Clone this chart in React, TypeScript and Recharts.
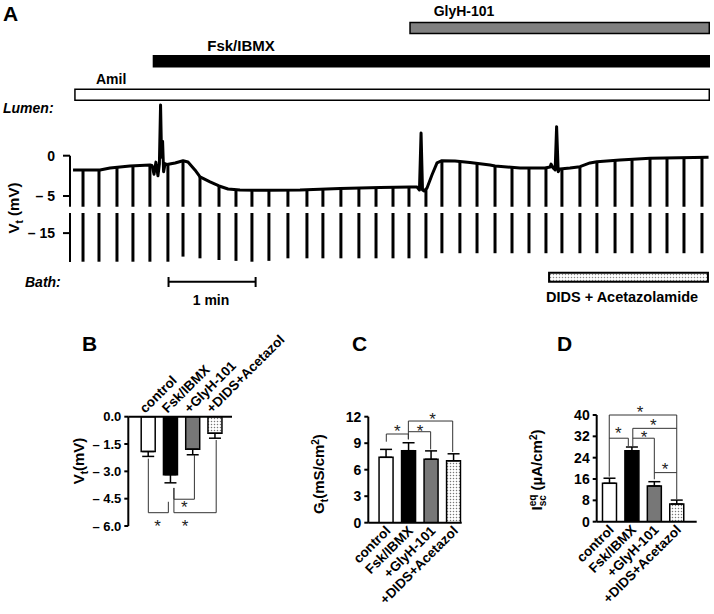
import React from 'react'
import {
  BarChart,
  Bar,
  ComposedChart,
  LineChart,
  Line,
  XAxis,
  YAxis,
  Cell,
  ErrorBar,
  ReferenceLine,
  ReferenceArea,
  ReferenceDot,
} from 'recharts'

const FONT = '"Liberation Sans", Arial, Helvetica, sans-serif'

// panel A: transepithelial voltage trace (time in s, Vt in mV)
const traceTime = [
  2.1, 20.7, 27.6, 41.3, 55.1, 56.5, 57.9, 59.2, 60.6, 61.6, 62.4, 63.1, 63.8, 64.5, 65.5, 66.8,
  72.4, 77.9, 81.3, 86.1, 89.6, 96.5, 102.7, 108.9, 117.1, 137.1, 158.5, 186.1, 213.6, 234.3,
  239.1, 240.8, 241.9, 242.9, 244.0, 246.0, 249.4, 252.9, 256.3, 265.3, 275.6, 289.4, 292.9,
  310.1, 327.3, 330.8, 331.5, 332.9, 334.3, 335.3, 336.4, 337.6, 344.5, 351.4, 358.3, 363.1,
  379.0, 399.7, 440.0,
]
const traceMv = [
  -1.77, -1.77, -1.53, -1.28, -1.15, -1.2, -2.3, -0.8, -2.5, -1.0, 6.3, -0.2, 1.8, -2.0, -1.0, -1.1,
  -0.9, -0.62, -0.78, -1.77, -2.64, -3.26, -3.76, -4.13, -4.26, -4.29, -4.26, -4.07, -3.95, -3.88,
  -3.88, -4.26, 2.8, -4.26, -4.38, -4.0, -2.4, -0.9, -0.62, -0.66, -0.84, -1.15, -1.28,
  -1.53, -1.53, -1.4, -1.04, -1.53, -1.77, 3.6, -2.0, -1.65, -1.53, -1.36, -0.9, -0.74,
  -0.53, -0.32, -0.2,
]

// current pulses: time, voltage at pulse start, voltage deflection reached
const pulseTime = [
  9.0, 20.0, 32.4, 43.4, 55.1, 67.5, 77.9, 89.6, 102.7, 114.4, 125.4, 137.1, 150.2, 163.3, 174.3,
  186.7, 199.1, 210.9, 222.6, 233.6, 245.3, 256.3, 268.7, 280.5, 292.9, 304.6, 316.3, 328.0, 339.0,
  351.4, 363.1, 375.6, 387.3, 399.7, 411.4, 423.1, 435.5,
]
const pulseTop = [
  -1.77, -1.77, -1.45, -1.26, -1.15, -1.05, -0.62, -2.64, -3.76, -4.24, -4.28, -4.29, -4.27, -4.24,
  -4.15, -4.07, -4.0, -3.96, -3.92, -3.88, -4.1, -0.62, -0.72, -0.9, -1.28, -1.46, -1.53, -1.52,
  -1.6, -1.36, -0.74, -0.56, -0.45, -0.32, -0.29, -0.25, -0.21,
]
const pulseBottom = [
  -25.1, -25.1, -25.1, -25.1, -25.1, -25.1, -23.3, -23.9, -24.5, -24.8, -25.1, -24.8, -23.9, -23.9,
  -23.9, -23.9, -23.9, -23.9, -23.9, -23.9, -23.9, -22.1, -22.1, -22.1, -22.1, -22.1, -22.1, -22.1,
  -22.1, -22.1, -22.1, -22.1, -22.1, -22.1, -22.1, -22.1, -22.1,
]

// drug additions (s)
const lumenDrugs = ['GlyH-101', 'Fsk/IBMX', 'Amil']
const lumenStart = [234.3, 57.5, 3.4]
const lumenEnd = [440.5, 440.5, 440.5]
const bathStart = 330.1
const bathEnd = 439.6
const scaleBarStart = 67.9
const scaleBarLen = 60

// panels B-D
const groups = ['control', 'Fsk/IBMX', '+GlyH-101', '+DIDS+Acetazol']
const vtMean = [-1.91, -3.18, -1.78, -0.91]
const vtSem = [0.27, 0.45, 0.31, 0.27]
const gtMean = [7.4, 8.15, 7.18, 7.0]
const gtSem = [0.9, 0.9, 0.95, 0.8]
const iscMean = [14.4, 26.6, 13.4, 6.6]
const iscSem = [1.9, 1.4, 1.6, 1.5]

type Bracket = { x1: number; x2: number; y: number; y1: number; y2: number; sx: number; sy: number }

const vtBrackets: Bracket[] = [
  { x1: 1, x2: 1.9, y: -5.27, y1: -2.3, y2: -4.67, sx: 1.42, sy: -5.8 },
  { x1: 2.15, x2: 3.07, y: -4.53, y1: -3.91, y2: -2.1, sx: 2.62, sy: -4.75 },
  { x1: 2.15, x2: 4.05, y: -5.27, y1: -3.91, y2: -1.28, sx: 2.65, sy: -5.8 },
]
const gtBrackets: Bracket[] = [
  { x1: 1, x2: 1.98, y: 10.04, y1: 9.17, y2: 9.44, sx: 1.49, sy: 10.8 },
  { x1: 1.98, x2: 2.97, y: 10.3, y1: 10.3, y2: 8.3, sx: 2.5, sy: 10.8 },
  { x1: 1.98, x2: 3.95, y: 11.51, y1: 9.44, y2: 8.0, sx: 3.06, sy: 12.08 },
]
const iscBrackets: Bracket[] = [
  { x1: 0.98, x2: 3.99, y: 40, y1: 16.9, y2: 8.4, sx: 2.35, sy: 42.5 },
  { x1: 0.98, x2: 1.83, y: 31.3, y1: 31.3, y2: 28.4, sx: 1.38, sy: 34.4 },
  { x1: 2.03, x2: 3.99, y: 35, y1: 28.1, y2: 35, sx: 2.94, sy: 37.5 },
  { x1: 2.03, x2: 2.99, y: 31.3, y1: 31.3, y2: 15.9, sx: 2.53, sy: 33.1 },
  { x1: 2.99, x2: 3.99, y: 18.4, y1: 18.4, y2: 18.4, sx: 3.47, sy: 20.9 },
]

const trace = traceTime.map((t, i) => ({ t, v: traceMv[i] }))
const pulses = pulseTime.map((t, i) => ({ t, range: [pulseBottom[i], pulseTop[i]] }))
const lumen = lumenDrugs.map((name, i) => ({ name, span: [lumenStart[i], lumenEnd[i]] }))
const lumenFills = ['#808080', '#000', '#fff']
const barFills = ['#fff', '#000', '#777']

const summary = (means: number[], sems: number[], down: boolean) =>
  groups.map((g, i) => ({ pos: i + 1, name: g, v: means[i], e: down ? [sems[i], 0] : [0, sems[i]] }))

const TIME_DOMAIN = [0, 441]
const UPPER = [-6.33, 6.91]
const LOWER = [-25.2, -7.9]

const tickStyle = { fill: '#000', fontSize: 14, fontWeight: 700 }

const TopTick = (p: any) => {
  const tx = p.x - 3
  const ty = p.y - 3
  return (
    <text x={tx} y={ty} transform={`rotate(-45 ${tx} ${ty})`} textAnchor='start' fontSize={13.5} fontWeight={700} fill='#000'>
      {groups[p.payload.value - 1]}
    </text>
  )
}

const BottomTick = (p: any) => {
  const tx = p.x + 5
  const ty = p.y + 9
  return (
    <text x={tx} y={ty} transform={`rotate(-45 ${tx} ${ty})`} textAnchor='end' fontSize={13.5} fontWeight={700} fill='#000'>
      {groups[p.payload.value - 1]}
    </text>
  )
}

const Star = (p: any) => (
  <text x={p.cx} y={p.cy + 9.5} textAnchor='middle' fontSize={17} fill='#222'>
    *
  </text>
)

const bracketMarks = (list: Bracket[], key: string) =>
  list.flatMap((b, i) => {
    const out = [
      <ReferenceLine key={`${key}t${i}`} segment={[{ x: b.x1, y: b.y }, { x: b.x2, y: b.y }]} stroke='#333' strokeWidth={1} ifOverflow='visible' />,
      <ReferenceDot key={`${key}s${i}`} x={b.sx} y={b.sy} r={0} ifOverflow='visible' shape={Star} />,
    ]
    if (b.y1 !== b.y)
      out.push(<ReferenceLine key={`${key}l${i}`} segment={[{ x: b.x1, y: b.y1 }, { x: b.x1, y: b.y }]} stroke='#333' strokeWidth={1} ifOverflow='visible' />)
    if (b.y2 !== b.y)
      out.push(<ReferenceLine key={`${key}r${i}`} segment={[{ x: b.x2, y: b.y }, { x: b.x2, y: b.y2 }]} stroke='#333' strokeWidth={1} ifOverflow='visible' />)
    return out
  })

const Summary = ({ id, data, yDomain, yTicks, fmt, xDomain, axisTop, box, margin, yWidth, brackets, yTick }: any) => (
  <div style={{ position: 'absolute', left: box.left, top: box.top }}>
    <BarChart width={box.width} height={box.height} data={data} margin={margin}>
      <defs>
        <pattern id={id} width={3} height={3} patternUnits='userSpaceOnUse'>
          <rect width={3} height={3} fill='#fff' />
          <circle cx={1.5} cy={1.5} r={0.75} fill='#777' />
        </pattern>
      </defs>
      <XAxis
        type='number'
        dataKey='pos'
        domain={xDomain}
        allowDataOverflow
        orientation={axisTop ? 'top' : 'bottom'}
        height={1}
        ticks={[1, 2, 3, 4]}
        interval={0}
        tickLine={false}
        tickSize={0}
        tickMargin={0}
        axisLine={{ stroke: '#000', strokeWidth: 2 }}
        tick={axisTop ? <TopTick /> : <BottomTick />}
      />
      <YAxis
        type='number'
        domain={yDomain}
        allowDataOverflow
        ticks={yTicks}
        interval={0}
        width={yWidth}
        tickFormatter={fmt}
        tickSize={4}
        tickMargin={3}
        axisLine={{ stroke: '#000', strokeWidth: 2 }}
        tickLine={{ stroke: '#000', strokeWidth: 2 }}
        tick={yTick || tickStyle}
      />
      <Bar dataKey='v' barSize={14} stroke='#000' strokeWidth={1.5} isAnimationActive={false}>
        {data.map((_: any, i: number) => (
          <Cell key={i} fill={i === 3 ? `url(#${id})` : barFills[i]} />
        ))}
        <ErrorBar dataKey='e' width={6} stroke='#000' strokeWidth={1.5} direction='y' />
      </Bar>
      {bracketMarks(brackets, id)}
    </BarChart>
  </div>
)

const mvLabel = (v: number) => (v === 0 ? '0' : `\u2013 ${Math.abs(v)}`)

export default function App() {
  const txt = { fontWeight: 700, fill: '#000' } as const
  return (
    <div style={{ position: 'absolute', left: 0, top: 0, width: 714, height: 614, background: '#fff', fontFamily: FONT }}>
      {/* lumen additions */}
      <div style={{ position: 'absolute', left: 0, top: 2 }}>
        <BarChart layout='vertical' width={714} height={120} data={lumen} margin={{ top: 9.5, right: 4, bottom: 10.5, left: 70 }}>
          <XAxis type='number' domain={TIME_DOMAIN} allowDataOverflow hide />
          <YAxis type='category' dataKey='name' hide />
          <Bar dataKey='span' barSize={11} stroke='#000' strokeWidth={1.5} isAnimationActive={false}>
            {lumen.map((_, i) => (
              <Cell key={i} fill={lumenFills[i]} />
            ))}
          </Bar>
        </BarChart>
      </div>

      {/* pulses, upper part of the broken axis */}
      <div style={{ position: 'absolute', left: 0, top: 0 }}>
        <ComposedChart width={714} height={310} data={pulses} margin={{ top: 100, right: 4, bottom: 103.3, left: 0 }}>
          <XAxis type='number' dataKey='t' domain={TIME_DOMAIN} allowDataOverflow hide />
          <YAxis
            type='number'
            domain={UPPER}
            allowDataOverflow
            ticks={[0, -5]}
            interval={0}
            width={70}
            axisLine={false}
            tickLine={{ stroke: '#000', strokeWidth: 2 }}
            tickSize={7}
            tickMargin={8}
            tick={tickStyle}
            tickFormatter={mvLabel}
          />
          <Bar dataKey='range' barSize={3} fill='#000' isAnimationActive={false} />
          <ReferenceLine segment={[{ x: 0, y: 0 }, { x: 0, y: UPPER[0] }]} stroke='#000' strokeWidth={2} ifOverflow='visible' />
        </ComposedChart>
      </div>

      {/* pulses, lower part of the broken axis, bath addition and time bar */}
      <div style={{ position: 'absolute', left: 0, top: 0 }}>
        <ComposedChart width={714} height={310} data={pulses} margin={{ top: 213, right: 4, bottom: 48, left: 0 }}>
          <defs>
            <pattern id='dotsA' width={3} height={3} patternUnits='userSpaceOnUse'>
              <rect width={3} height={3} fill='#fff' />
              <circle cx={1.5} cy={1.5} r={0.75} fill='#888' />
            </pattern>
          </defs>
          <XAxis type='number' dataKey='t' domain={TIME_DOMAIN} allowDataOverflow hide />
          <YAxis
            type='number'
            domain={LOWER}
            allowDataOverflow
            ticks={[-15]}
            interval={0}
            width={70}
            axisLine={{ stroke: '#000', strokeWidth: 2 }}
            tickLine={{ stroke: '#000', strokeWidth: 2 }}
            tickSize={7}
            tickMargin={8}
            tick={tickStyle}
            tickFormatter={mvLabel}
          />
          <Bar dataKey='range' barSize={3} fill='#000' isAnimationActive={false} />
          <ReferenceArea x1={bathStart} x2={bathEnd} y1={-28.98} y2={-32.16} fill='url(#dotsA)' fillOpacity={1} stroke='#000' strokeWidth={2} ifOverflow='visible' />
          <ReferenceLine segment={[{ x: scaleBarStart, y: -32.16 }, { x: scaleBarStart + scaleBarLen, y: -32.16 }]} stroke='#000' strokeWidth={2} ifOverflow='visible' />
          <ReferenceLine segment={[{ x: scaleBarStart, y: -30.5 }, { x: scaleBarStart, y: -34.03 }]} stroke='#000' strokeWidth={2} ifOverflow='visible' />
          <ReferenceLine segment={[{ x: scaleBarStart + scaleBarLen, y: -30.5 }, { x: scaleBarStart + scaleBarLen, y: -34.03 }]} stroke='#000' strokeWidth={2} ifOverflow='visible' />
        </ComposedChart>
      </div>

      {/* voltage trace */}
      <div style={{ position: 'absolute', left: 0, top: 0 }}>
        <LineChart width={714} height={310} data={trace} margin={{ top: 100, right: 4, bottom: 103.3, left: 70 }}>
          <XAxis type='number' dataKey='t' domain={TIME_DOMAIN} allowDataOverflow hide />
          <YAxis type='number' domain={UPPER} hide />
          <Line dataKey='v' stroke='#000' strokeWidth={3} dot={false} strokeLinejoin='round' isAnimationActive={false} />
        </LineChart>
      </div>

      <Summary
        id='dotsB'
        data={summary(vtMean, vtSem, true)}
        yDomain={[-6, 0]}
        yTicks={[0, -1.5, -3, -4.5, -6]}
        fmt={(v: number) => (v === 0 ? '0.0' : `\u2013 ${Math.abs(v).toFixed(1)}`)}
        yTick={{ fill: '#000', fontSize: 13, fontWeight: 700 }}
        xDomain={[0.1, 4.76]}
        axisTop
        box={{ left: 60, top: 300, width: 260, height: 240 }}
        margin={{ top: 115.7, right: 88, bottom: 14, left: 0 }}
        yWidth={68.3}
        brackets={vtBrackets}
      />
      <Summary
        id='dotsC'
        data={summary(gtMean, gtSem, false)}
        yDomain={[0, 12]}
        yTicks={[0, 3, 6, 9, 12]}
        fmt={(v: number) => String(v)}
        xDomain={[0.2, 4.35]}
        axisTop={false}
        box={{ left: 290, top: 330, width: 190, height: 284 }}
        margin={{ top: 86.7, right: 18.3, bottom: 90.3, left: 0 }}
        yWidth={78.3}
        brackets={gtBrackets}
      />
      <Summary
        id='dotsD'
        data={summary(iscMean, iscSem, false)}
        yDomain={[0, 40]}
        yTicks={[0, 8, 16, 24, 32, 40]}
        fmt={(v: number) => String(v)}
        xDomain={[0.42, 4.88]}
        axisTop={false}
        box={{ left: 500, top: 330, width: 214, height: 284 }}
        margin={{ top: 85, right: 17.3, bottom: 91.3, left: 0 }}
        yWidth={96.7}
        brackets={iscBrackets}
      />

      {/* labels */}
      <svg width={714} height={614} style={{ position: 'absolute', left: 0, top: 0, pointerEvents: 'none' }}>
        <text x={3} y={21} fontSize={21} {...txt}>A</text>
        <text x={464} y={16} fontSize={14} textAnchor='middle' {...txt}>GlyH-101</text>
        <text x={241} y={51} fontSize={15} textAnchor='middle' {...txt}>Fsk/IBMX</text>
        <text x={96} y={84} fontSize={14} {...txt}>Amil</text>
        <text x={3} y={113} fontSize={14} fontStyle='italic' {...txt}>Lumen:</text>
        <text transform='translate(19 208) rotate(-90)' fontSize={15} textAnchor='middle' {...txt}>
          V<tspan dy={4} fontSize={10}>t</tspan>
          <tspan dy={-4}> (mV)</tspan>
        </text>
        <text x={25} y={287} fontSize={14} fontStyle='italic' {...txt}>Bath:</text>
        <text x={211} y={305} fontSize={14} textAnchor='middle' {...txt}>1 min</text>
        <text x={546} y={302} fontSize={14.5} {...txt}>DIDS + Acetazolamide</text>

        <text x={82} y={351} fontSize={21} {...txt}>B</text>
        <text x={352} y={351} fontSize={21} {...txt}>C</text>
        <text x={557} y={351} fontSize={21} {...txt}>D</text>

        <text transform='translate(84 461) rotate(-90)' fontSize={15} textAnchor='middle' {...txt}>
          V<tspan dy={4} fontSize={10}>t</tspan>
          <tspan dy={-4}>(mV)</tspan>
        </text>
        <text transform='translate(324 474) rotate(-90)' fontSize={15} textAnchor='middle' {...txt}>
          G<tspan dy={4} fontSize={10}>t</tspan>
          <tspan dy={-4}>(mS/cm</tspan>
          <tspan dy={-5} fontSize={10}>2</tspan>
          <tspan dy={5}>)</tspan>
        </text>
        <text transform='translate(542 470) rotate(-90)' fontSize={15} textAnchor='middle' {...txt}>
          I<tspan dy={4} fontSize={10}>sc</tspan>
          <tspan dx={-11} dy={-10} fontSize={10}>eq</tspan>
          <tspan dy={6}> (µA/cm</tspan>
          <tspan dy={-5} fontSize={10}>2</tspan>
          <tspan dy={5}>)</tspan>
        </text>
      </svg>
    </div>
  )
}
